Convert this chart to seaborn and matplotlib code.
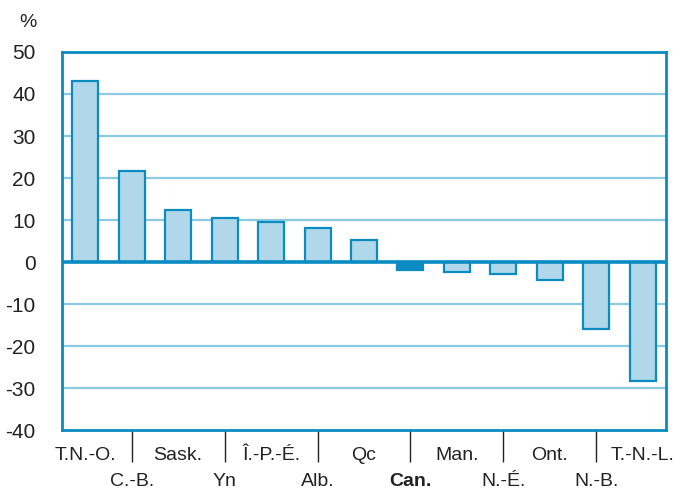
import pandas as pd
import seaborn as sns
import matplotlib.pyplot as plt

# Province/territory codes and % change values
regions = ["T.N.-O.", "C.-B.", "Sask.", "Yn", "Î.-P.-É.", "Alb.", "Qc",
           "Can.", "Man.", "N.-É.", "Ont.", "N.-B.", "T.-N.-L."]
changes = [43.1, 21.7, 12.4, 10.5, 9.5, 8.1, 5.2,
           -1.9, -2.4, -2.9, -4.3, -16.0, -28.3]
yticks = [50, 40, 30, 20, 10, 0, -10, -20, -30, -40]

dark = "#0a8bc2"
light = "#b0d8ea"
grid = "#8ccae4"
ink = "#222222"

df = pd.DataFrame({"region": regions, "change": changes})
colors = [dark if r == "Can." else light for r in regions]

sns.set_style("white")
plt.rcParams["font.family"] = ["Liberation Sans", "DejaVu Sans"]

fig = plt.figure(figsize=(6.84, 4.91), dpi=100)
ax = fig.add_axes([0.0906, 0.1242, 0.8831, 0.7699])

sns.barplot(data=df, x="region", y="change", hue="region", palette=colors,
            legend=False, width=0.56, edgecolor=dark, linewidth=1.6,
            saturation=1, ax=ax, zorder=3)

ax.set_ylim(-40, 50)
ax.set_xlim(-0.5, len(regions) - 0.5)
for y in yticks:
    if y not in (0, 50, -40):
        ax.axhline(y, color=grid, lw=1.6, zorder=1)
ax.axhline(0, color=dark, lw=2.6, zorder=4)

for s in ax.spines.values():
    s.set_color(dark)
    s.set_linewidth(2)

ax.set_yticks(yticks)
ax.set_yticklabels([str(v) for v in yticks], fontsize=15, color=ink)
ax.tick_params(axis="y", length=0, pad=19)

# alternate labels on two rows; tick lines mark the lower row
even = list(range(0, len(regions), 2))
odd = list(range(1, len(regions), 2))
ax.set_xticks(even, [regions[i] for i in even], fontsize=14, color=ink)
ax.set_xticks(odd, [regions[i] for i in odd], minor=True, fontsize=14,
              color=ink)
ax.tick_params(axis="x", which="major", bottom=True, length=0, pad=12.5)
ax.tick_params(axis="x", which="minor", bottom=True, length=23, width=1,
               color=ink, direction="out", pad=8)
for lbl in ax.get_xticklabels(minor=True):
    if lbl.get_text() == "Can.":
        lbl.set_fontweight("bold")

ax.set_xlabel("")
ax.set_ylabel("")
fig.text(0.041, 0.955, "%", fontsize=14, color=ink, ha="center", va="center")

plt.savefig("out.png", dpi=100)
plt.close()
